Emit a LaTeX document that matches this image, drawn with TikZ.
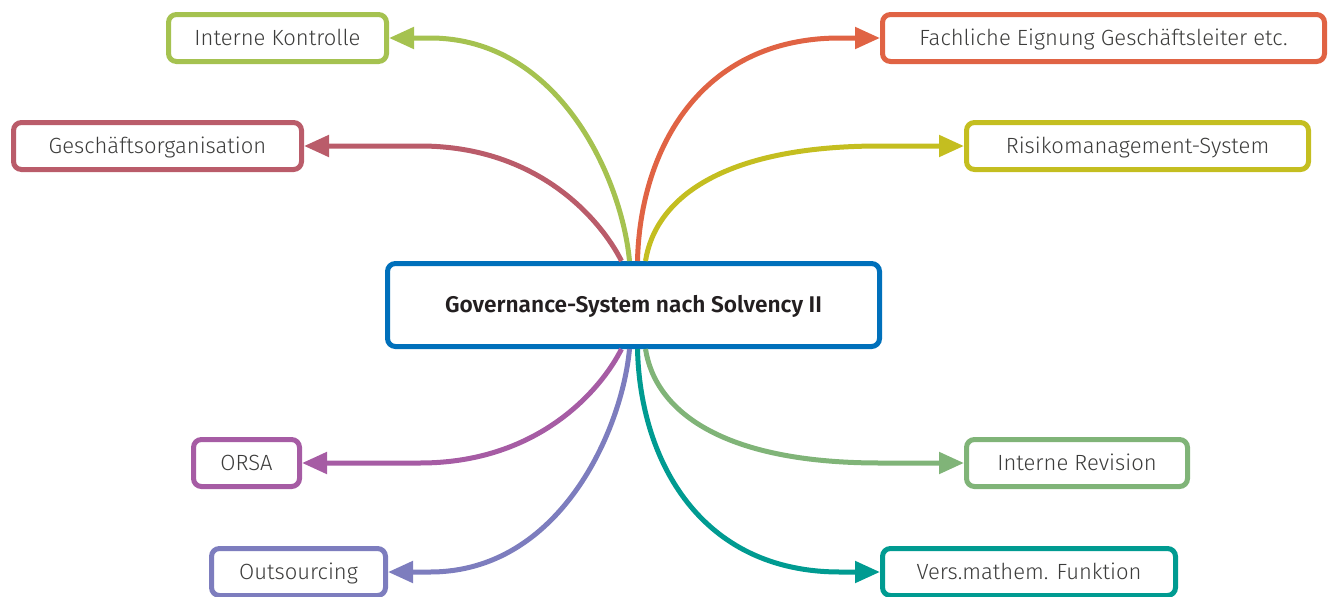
\documentclass[tikz,border=0pt]{standalone}
\usepackage{fontspec}
\setmainfont{Fira Sans}[UprightFont=* Light, BoldFont=* SemiBold]
\usetikzlibrary{arrows.meta}
\definecolor{cik}{HTML}{A5C250}
\definecolor{cgo}{HTML}{BA5C6A}
\definecolor{cfe}{HTML}{E06344}
\definecolor{crm}{HTML}{C4BE20}
\definecolor{cor}{HTML}{A65CA4}
\definecolor{cos}{HTML}{7D7DBE}
\definecolor{cvm}{HTML}{009B91}
\definecolor{cir}{HTML}{80B478}
\definecolor{cce}{HTML}{0070BB}
\definecolor{ctx}{HTML}{3C3C3B}
\definecolor{ctc}{HTML}{231F20}
\tikzset{
  box/.style={draw=#1, line width=5pt, rounded corners=8pt, fill=white,
    inner sep=0pt, minimum height=47pt, text=ctx,
    text height=15.2pt, text depth=0pt,
    font=\fontsize{22}{26}\selectfont},
  conn/.style={draw=#1, line width=5pt, line cap=butt,
    -{Triangle[length=25pt,width=21pt]}}
}
\begin{document}
\begin{tikzpicture}[x=1pt,y=-1pt]
\useasboundingbox (0,0) rectangle (1336,597);
% center
\node[box=cce, minimum width=492pt, minimum height=83pt, text=ctc,
  font=\fontsize{22.7}{27}\selectfont, text height=15.6pt] (c) at (633.5,305)
  {\bfseries Governance-System nach Solvency II};
% outer nodes
\node[box=cik, minimum width=218pt] (ik) at (277.5,38) {Interne Kontrolle};
\node[box=cgo, minimum width=288pt] (go) at (157.5,146) {Geschäftsorganisation};
\node[box=cfe, minimum width=442pt] (fe) at (1103.5,38) {Fachliche Eignung Geschäftsleiter etc.};
\node[box=crm, minimum width=342pt] (rm) at (1137.5,146) {Risikomanagement-System};
\node[box=cor, minimum width=106pt] (or) at (246.5,463) {ORSA};
\node[box=cir, minimum width=221pt] (ir) at (1077,463) {Interne Revision};
\node[box=cos, minimum width=174pt] (os) at (298.5,572) {Outsourcing};
\node[box=cvm, minimum width=293pt] (vm) at (1029,572) {Vers.mathem. Funktion};
% connectors top
\draw[conn=cgo] ([xshift=-12pt]c.north) .. controls (602,222) and (540,146) .. (420,146) -- (go.east);
\draw[conn=cik] ([xshift=-4pt]c.north) .. controls (622,180) and (560,38) .. (430,38) -- (ik.east);
\draw[conn=cfe] ([xshift=4pt]c.north) .. controls (640,150) and (700,38) .. (840,38) -- (fe.west);
\draw[conn=crm] ([xshift=12pt]c.north) .. controls (655,200) and (720,146) .. (880,146) -- (rm.west);
% connectors bottom
\draw[conn=cor] ([xshift=-12pt]c.south) .. controls (602,388) and (540,463) .. (420,463) -- (or.east);
\draw[conn=cos] ([xshift=-4pt]c.south) .. controls (622,430) and (560,572) .. (430,572) -- (os.east);
\draw[conn=cvm] ([xshift=4pt]c.south) .. controls (640,460) and (700,572) .. (840,572) -- (vm.west);
\draw[conn=cir] ([xshift=12pt]c.south) .. controls (655,410) and (720,463) .. (880,463) -- (ir.west);
\end{tikzpicture}
\end{document}
